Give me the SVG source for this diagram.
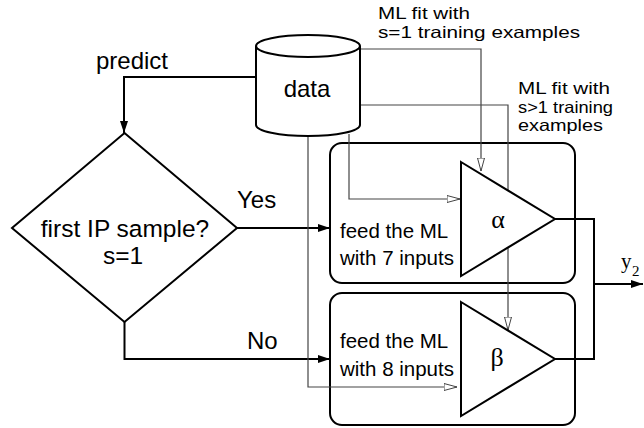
<svg xmlns="http://www.w3.org/2000/svg" width="644" height="428" viewBox="0 0 644 428">
<defs>
<style>
.thick{fill:none;stroke:#000;stroke-width:2}
.thin{fill:none;stroke:#444;stroke-width:1.2}
.shape{fill:#fff;stroke:#000;stroke-width:2}
.t{font-family:"Liberation Sans",Arial,sans-serif;fill:#000}
.s{font-family:"Liberation Sans",Arial,sans-serif;fill:#000;font-size:16.5px}
.g{font-family:"Liberation Serif","Times New Roman",serif;fill:#000}
</style>
<marker id="fa" viewBox="0 0 12 8" refX="12" refY="4" markerWidth="12" markerHeight="8" markerUnits="userSpaceOnUse" orient="auto">
<path d="M0,0 L12,4 L0,8 Z" fill="#000"/>
</marker>
<marker id="oa" viewBox="0 0 14 8" refX="13.5" refY="4" markerWidth="14" markerHeight="8" markerUnits="userSpaceOnUse" orient="auto">
<path d="M0.5,0.5 L13.5,4 L0.5,7.5 Z" fill="#fff" stroke="#444" stroke-width="1"/>
</marker>
</defs>
<rect width="644" height="428" fill="#fff"/>

<g id="box-alpha">
<rect class="shape" x="330" y="143" width="245" height="140" rx="12"/>
<text class="t" x="340" y="238" font-size="20.5">feed the ML</text>
<text class="t" x="340" y="265" font-size="20.5">with 7 inputs</text>
</g>
<g id="box-beta">
<rect class="shape" x="330" y="293" width="245" height="132" rx="12"/>
<text class="t" x="340" y="348" font-size="20.5">feed the ML</text>
<text class="t" x="340" y="376" font-size="20.5">with 8 inputs</text>
</g>

<g id="connectors">
<path class="thick" d="M256,77 H124 V133" marker-end="url(#fa)"/>
<path class="thick" d="M237,228 H330" marker-end="url(#fa)"/>
<path class="thick" d="M124.5,322 V359 H330" marker-end="url(#fa)"/>
<path class="thick" d="M555,219 H594 V359 H555"/>
<path class="thick" d="M594,284 H643" marker-end="url(#fa)"/>
<path class="thin" d="M360,49 H481 V171" marker-end="url(#oa)"/>
<path class="thin" d="M360,105 H508 V330" marker-end="url(#oa)"/>
<path class="thin" d="M349,134 V199 H460" marker-end="url(#oa)"/>
<path class="thin" d="M308,136 V387 H457" marker-end="url(#oa)"/>
</g>

<g id="data">
<path class="shape" d="M256,46 V125 A52,11 0 0 0 360,125 V46"/>
<ellipse class="shape" cx="308" cy="46" rx="52" ry="11"/>
<text class="t" x="307" y="97" font-size="24" text-anchor="middle">data</text>
</g>

<g id="decision">
<path class="shape" d="M124.5,133 L237,228 L124.5,322 L12,228 Z"/>
<text class="t" x="125" y="237" font-size="24.5" text-anchor="middle">first IP sample?</text>
<text class="t" x="123" y="264" font-size="24.5" text-anchor="middle">s=1</text>
</g>

<g id="alpha">
<path class="shape" d="M461,162 L555,219 L461,276 Z"/>
<text class="g" x="498" y="228" font-size="26" text-anchor="middle">α</text>
</g>
<g id="beta">
<path class="shape" d="M461,302 L555,359 L461,416 Z"/>
<text class="g" x="497" y="366" font-size="26" text-anchor="middle">β</text>
</g>

<g id="labels">
<text class="t" x="96" y="69" font-size="24">predict</text>
<text class="t" x="237" y="208" font-size="24">Yes</text>
<text class="t" x="247" y="349" font-size="24">No</text>
<text class="s" x="378" y="19" textLength="92" lengthAdjust="spacingAndGlyphs">ML fit with</text>
<text class="s" x="378" y="37.5" textLength="202" lengthAdjust="spacingAndGlyphs">s=1 training examples</text>
<text class="s" x="518" y="94" textLength="92" lengthAdjust="spacingAndGlyphs">ML fit with</text>
<text class="s" x="518" y="112.5" textLength="95" lengthAdjust="spacingAndGlyphs">s&gt;1 training</text>
<text class="s" x="518" y="131" textLength="85" lengthAdjust="spacingAndGlyphs">examples</text>
<text class="g" x="621" y="268" font-size="21">y</text>
<text class="g" x="632" y="276" font-size="15">2</text>
</g>
</svg>
